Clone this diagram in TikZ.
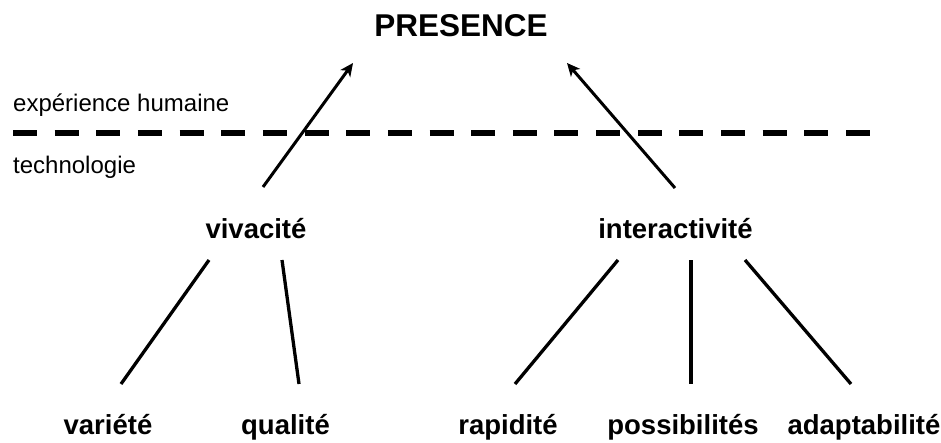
\documentclass[tikz,border=0pt]{standalone}
\usepackage{fontspec}
\setmainfont{Liberation Sans}
\usetikzlibrary{arrows.meta}
\begin{document}
\begin{tikzpicture}[x=1pt,y=-1pt,
  lbl/.style={inner sep=0pt,anchor=base,font=\fontsize{27.5}{30}\selectfont\bfseries},
  title/.style={inner sep=0pt,anchor=base,font=\fontsize{31.5}{34}\selectfont\bfseries},
  side/.style={inner sep=0pt,anchor=base west,font=\fontsize{24}{26}\selectfont},
  conn/.style={line width=3.3pt},
  arr/.style={line width=3pt,-{Stealth[length=13pt,width=12pt,inset=3.5pt]}},
  sep/.style={line width=6pt,dash pattern=on 24pt off 17.65pt}]
\useasboundingbox (0,0) rectangle (941,442);
\node[title] (pres) at (461,36) {PRESENCE};
\node[side] (exp) at (13,111) {expérience humaine};
\node[side] (tech) at (13,173) {technologie};
\node[lbl] (viv) at (256,238) {vivacité};
\node[lbl] (inter) at (675.5,238) {interactivité};
\node[lbl] (var) at (108,434) {variété};
\node[lbl] (qual) at (285.5,434) {qualité};
\node[lbl] (rap) at (508,434) {rapidité};
\node[lbl] (poss) at (683,434) {possibilités};
\node[lbl] (adap) at (864,434) {adaptabilité};
% separator
\coordinate (sepL) at (13,133);
\coordinate (sepR) at (870,133);
\draw[sep] (sepL) -- (sepR);
% arrows to PRESENCE
\coordinate (vivTop) at (263,187);
\coordinate (presL) at (353,63);
\coordinate (interTop) at (675,188);
\coordinate (presR) at (567,63);
\draw[arr] (vivTop) -- (presL);
\draw[arr] (interTop) -- (presR);
% vivacite branches
\coordinate (vivA) at (209,260);
\coordinate (vivB) at (282,260);
\coordinate (varT) at (121,384);
\coordinate (qualT) at (299,384);
\draw[conn] (vivA) -- (varT);
\draw[conn] (vivB) -- (qualT);
% interactivite branches
\coordinate (intA) at (618,260);
\coordinate (intB) at (691,260);
\coordinate (intC) at (745,260);
\coordinate (rapT) at (515,384);
\coordinate (possT) at (691,384);
\coordinate (adapT) at (851,384);
\draw[conn] (intA) -- (rapT);
\draw[conn] (intB) -- (possT);
\draw[conn] (intC) -- (adapT);
\end{tikzpicture}
\end{document}
